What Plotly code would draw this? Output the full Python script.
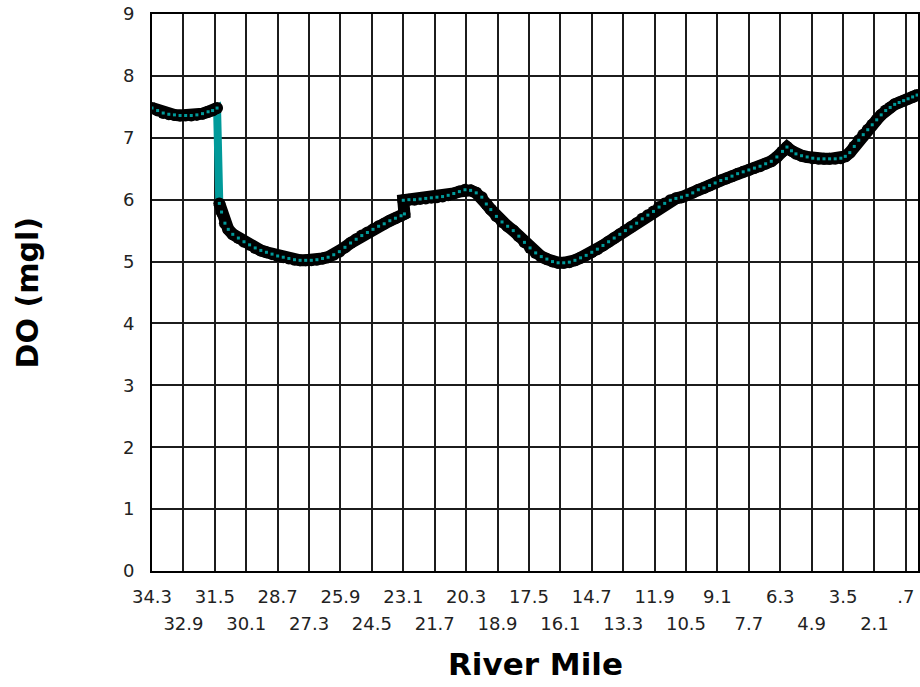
import plotly.graph_objects as go

# River mile positions and dissolved oxygen (mg/l)
river_mile = [
    34.3, 34.05, 33.8, 33.55, 33.3, 33.05, 32.8, 32.55, 32.3, 32.05, 31.8, 31.6, 31.4,
    31.3, 31.2, 31.05, 30.9, 30.7, 30.45, 30.2, 29.95, 29.7, 29.45, 29.2, 28.95, 28.7,
    28.45, 28.2, 27.95, 27.7, 27.45, 27.2, 26.95, 26.7, 26.45, 26.2, 25.95, 25.7, 25.45,
    25.2, 24.95, 24.7, 24.45, 24.2, 23.95, 23.7, 23.45, 23.2, 23.05,
    23.1, 22.85, 22.6, 22.35, 22.1, 21.85, 21.6, 21.35, 21.1, 20.85, 20.6, 20.35, 20.1,
    19.85, 19.6, 19.4, 19.2, 18.95, 18.7, 18.45, 18.2, 17.95, 17.7, 17.45, 17.2, 16.95,
    16.7, 16.45, 16.2, 15.95, 15.7, 15.45, 15.2, 14.95, 14.7, 14.45, 14.2, 13.95, 13.7,
    13.45, 13.2, 12.95, 12.7, 12.45, 12.2, 11.95, 11.7, 11.45, 11.2, 10.95, 10.7, 10.45,
    10.2, 9.95, 9.7, 9.45, 9.2, 8.95, 8.7, 8.45, 8.2, 7.95, 7.7, 7.45, 7.2, 6.95, 6.7,
    6.45, 6.2, 6.0, 5.8, 5.6, 5.35, 5.1, 4.85, 4.6, 4.35, 4.1, 3.85, 3.6, 3.4, 3.2, 3.0,
    2.8, 2.6, 2.4, 2.2, 2.0, 1.8, 1.6, 1.4, 1.2, 1.0, 0.8, 0.6, 0.4, 0.2,
]
do_mgl = [
    7.48, 7.44, 7.40, 7.38, 7.37, 7.36, 7.36, 7.36, 7.37, 7.39, 7.42, 7.44, 7.48,
    5.94, 5.80, 5.62, 5.52, 5.44, 5.38, 5.32, 5.27, 5.22, 5.18, 5.15, 5.12, 5.09,
    5.07, 5.05, 5.03, 5.02, 5.02, 5.02, 5.03, 5.05, 5.07, 5.11, 5.16, 5.23, 5.30,
    5.36, 5.42, 5.47, 5.52, 5.57, 5.61, 5.66, 5.70, 5.74, 5.77,
    5.99, 6.00, 6.00, 6.01, 6.02, 6.03, 6.04, 6.05, 6.07, 6.10, 6.13, 6.16, 6.15,
    6.11, 6.04, 5.93, 5.84, 5.73, 5.64, 5.57, 5.50, 5.41, 5.31, 5.22, 5.14, 5.08,
    5.04, 5.00, 4.98, 4.98, 4.99, 5.02, 5.06, 5.10, 5.15, 5.20, 5.26, 5.32, 5.38,
    5.44, 5.50, 5.56, 5.62, 5.69, 5.75, 5.81, 5.88, 5.94, 5.99, 6.02, 6.04, 6.07,
    6.11, 6.16, 6.19, 6.23, 6.27, 6.31, 6.34, 6.38, 6.42, 6.45, 6.48, 6.51, 6.54, 6.58, 6.62,
    6.69, 6.78, 6.85, 6.79, 6.74, 6.71, 6.69, 6.67, 6.66, 6.66, 6.66, 6.66, 6.67, 6.70, 6.76, 6.86,
    6.96, 7.05, 7.13, 7.21, 7.29, 7.37, 7.44, 7.49, 7.54, 7.57, 7.60, 7.63, 7.66, 7.69,
]

# Axis ticks
tick_miles = [34.3, 32.9, 31.5, 30.1, 28.7, 27.3, 25.9, 24.5, 23.1, 21.7, 20.3, 18.9,
              17.5, 16.1, 14.7, 13.3, 11.9, 10.5, 9.1, 7.7, 6.3, 4.9, 3.5, 2.1, 0.7]
tick_labels = ["34.3", "32.9", "31.5", "30.1", "28.7", "27.3", "25.9", "24.5", "23.1",
               "21.7", "20.3", "18.9", "17.5", "16.1", "14.7", "13.3", "11.9", "10.5",
               "9.1", "7.7", "6.3", "4.9", "3.5", "2.1", ".7"]
y_ticks = [0, 1, 2, 3, 4, 5, 6, 7, 8, 9]

TEAL = "#009A9A"
GRID = "#1c1c1c"
TICKFONT = dict(family="DejaVu Sans", size=18, color="#222222")
X_RANGE = [34.3, 0.16]

# Black band: same data, broken where the measured series jumps (> 1 mg/l)
band_x, band_y = [], []
for i, (mx, dy) in enumerate(zip(river_mile, do_mgl)):
    if i > 0 and abs(dy - do_mgl[i - 1]) > 1.0:
        band_x.append(None)
        band_y.append(None)
    band_x.append(mx)
    band_y.append(dy)

fig = go.Figure()
# teal connecting line (visible at the jump)
fig.add_trace(go.Scatter(
    x=river_mile, y=do_mgl, mode="lines",
    line=dict(color=TEAL, width=8),
    showlegend=False, hoverinfo="skip",
))
# dense black band of markers
fig.add_trace(go.Scatter(
    x=band_x, y=band_y, mode="lines+markers", connectgaps=False,
    line=dict(color="black", width=12),
    marker=dict(size=12, color="black", line=dict(width=0)),
    showlegend=False, hoverinfo="skip",
))
# teal marker centres
fig.add_trace(go.Scatter(
    x=river_mile, y=do_mgl, mode="markers", xaxis="x2",
    marker=dict(size=3, color=TEAL, symbol="square", line=dict(width=0)),
    showlegend=False, hoverinfo="skip",
))

top_text = [t if i % 2 == 0 else "" for i, t in enumerate(tick_labels)]
bottom_vals = [v for i, v in enumerate(tick_miles) if i % 2 == 1]
bottom_text = [t for i, t in enumerate(tick_labels) if i % 2 == 1]

fig.update_layout(
    width=920, height=687,
    margin=dict(l=152, r=2, t=14, b=116, autoexpand=False),
    paper_bgcolor="white", plot_bgcolor="white",
    xaxis=dict(
        range=X_RANGE, tickmode="array", tickvals=tick_miles, ticktext=top_text,
        showgrid=True, gridcolor=GRID, gridwidth=2, automargin=False,
        showline=True, linecolor="black", linewidth=2, mirror=True,
        ticks="", tickfont=TICKFONT, ticklabelstandoff=8, zeroline=False,
    ),
    xaxis2=dict(
        range=X_RANGE, overlaying="x", anchor="y", side="bottom",
        tickmode="array", tickvals=bottom_vals, ticktext=bottom_text,
        showgrid=False, showline=False, ticks="", tickfont=TICKFONT,
        ticklabelstandoff=40, zeroline=False, automargin=False,
    ),
    yaxis=dict(
        range=[0, 9], tickmode="array", tickvals=y_ticks,
        showgrid=True, gridcolor=GRID, gridwidth=2, automargin=False,
        showline=True, linecolor="black", linewidth=2, mirror=True,
        ticks="", tickfont=TICKFONT, ticklabelstandoff=12, zeroline=False,
    ),
    annotations=[
        dict(text="River Mile", xref="paper", yref="paper", x=0.5, y=-0.167,
             xanchor="center", yanchor="middle", showarrow=False,
             font=dict(family="DejaVu Sans", size=31, color="black", weight="bold")),
        dict(text="DO (mgl)", xref="paper", yref="paper", x=-0.162, y=0.5,
             xanchor="center", yanchor="middle", showarrow=False, textangle=-90,
             font=dict(family="DejaVu Sans", size=30, color="black", weight="bold")),
    ],
)

fig.write_html("out.html", config={"displayModeBar": False},
               post_script="document.body.style.margin='0';")
